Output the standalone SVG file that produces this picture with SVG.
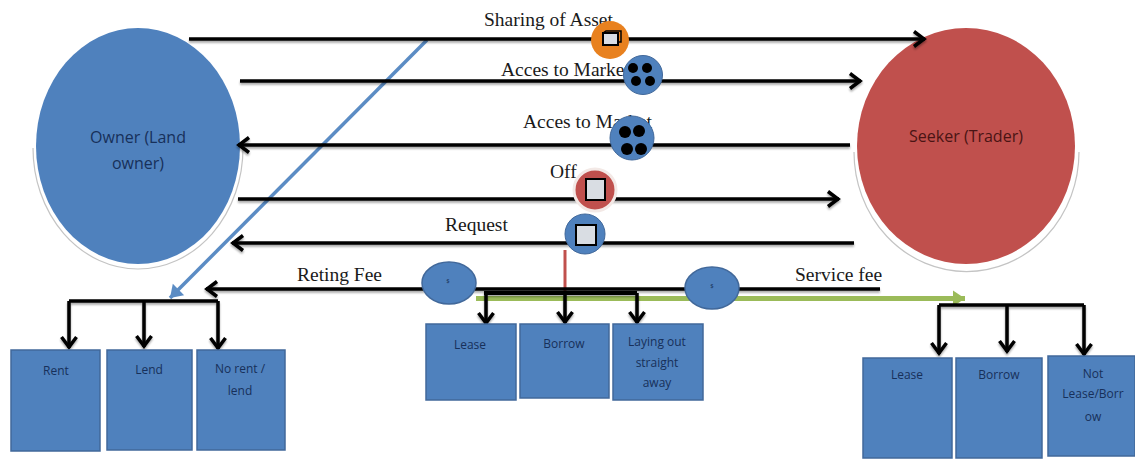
<svg xmlns="http://www.w3.org/2000/svg" width="1135" height="459" viewBox="0 0 1135 459">
<defs>
<marker id="ah" markerUnits="userSpaceOnUse" markerWidth="18" markerHeight="20" refX="14" refY="10" orient="auto"><path d="M3 2.5 L13 10 L3 17.5" fill="none" stroke="#000" stroke-width="3.5"/></marker>
<marker id="ahb" markerUnits="userSpaceOnUse" markerWidth="18" markerHeight="20" refX="14" refY="10" orient="auto"><path d="M2 2 L14 10 L2 18 Z" fill="#5b8cc4"/></marker>
<marker id="ahg" markerUnits="userSpaceOnUse" markerWidth="18" markerHeight="20" refX="14" refY="10" orient="auto"><path d="M2 2 L14 10 L2 18 Z" fill="#9bbb59"/></marker>
<filter id="sh" x="-5%" y="-5%" width="110%" height="110%"><feGaussianBlur in="SourceAlpha" stdDeviation="1"/><feOffset dy="1.5"/><feComponentTransfer><feFuncA type="linear" slope="0.35"/></feComponentTransfer><feMerge><feMergeNode/><feMergeNode in="SourceGraphic"/></feMerge></filter>
</defs>
<style>
.l{stroke:#000;stroke-width:3.5;fill:none}
.a{marker-end:url(#ah)}
.b{fill:#4f81bd;stroke:#41689a;stroke-width:1.5}
.s{font-family:"Liberation Serif",serif;font-size:19.5px;fill:#1a1a1a}
.t{font-family:"Open Sans","DejaVu Sans",sans-serif;font-size:12px;fill:#17305a;text-anchor:middle}
.c{font-size:16px}
.k{fill:#000}
.g{fill:#d9dde3;stroke:#000;stroke-width:2}
.r{fill:none;stroke:#c4c4c4;stroke-width:1.2}
</style>
<rect width="1135" height="459" fill="#fff"/>
<g id="owner">
<path class="r" d="M33 148A105 121 0 0 0 243 148"/>
<ellipse cx="138" cy="146" rx="102" ry="118" fill="#4f81bd"/>
<text class="t c" x="138" y="143">Owner (Land</text>
<text class="t c" x="138" y="169">owner)</text>
</g>
<g id="seeker">
<path class="r" d="M854 152A112 119 0 0 0 1079 152"/>
<ellipse cx="966" cy="146" rx="109" ry="118" fill="#c0504d"/>
<text class="t c" style="fill:#4a1414" x="966" y="142">Seeker (Trader)</text>
</g>
<g id="connectors">
<path d="M427 40L170 298" stroke="#5b8cc4" stroke-width="3.5" fill="none" marker-end="url(#ahb)"/>
<path d="M476 298.500H965" stroke="#9bbb59" stroke-width="5" fill="none" marker-end="url(#ahg)"/>
<path d="M565 250V293" stroke="#c0504d" stroke-width="3" fill="none"/>
<g filter="url(#sh)">
<path class="l a" d="M189 39H925"/>
<path class="l a" d="M240 81H861"/>
<path class="l a" d="M850 145H238"/>
<path class="l a" d="M238 199H839"/>
<path class="l a" d="M854 243H232"/>
<path class="l a" d="M880 289H206"/>
<path d="M484 293H637" stroke="#000" stroke-width="4" fill="none"/>
<path class="l a" d="M486 293V324"/>
<path class="l a" d="M565 293V323"/>
<path class="l a" d="M637 293V323"/>
<path class="l" d="M69 301H218"/>
<path class="l a" d="M69 301V348"/>
<path class="l a" d="M144 301V347"/>
<path class="l a" d="M218 301V349"/>
<path class="l" d="M939 305H1084"/>
<path class="l a" d="M939 305V354"/>
<path class="l a" d="M1007 305V352"/>
<path class="l a" d="M1084 305V355"/>
</g>
</g>
<g id="label-sharing"><text class="s" x="484" y="26">Sharing of Asset</text></g>
<g id="label-market-1"><text class="s" x="501" y="76">Acces to Market</text></g>
<g id="label-market-2"><text class="s" x="523" y="128">Acces to Market</text></g>
<g id="label-off"><text class="s" x="550" y="178">Off</text></g>
<g id="label-request"><text class="s" x="445" y="231">Request</text></g>
<g id="label-fee"><text class="s" x="297" y="281">Reting Fee</text></g>
<g id="label-service"><text class="s" x="795" y="281">Service fee</text></g>
<g id="icon-asset">
<circle cx="610" cy="40" r="19" fill="#e8811f"/>
<rect x="603" y="33" width="15" height="12" class="g"/>
<path d="M618 31H621V42H618M603 33L606 31H621" fill="none" stroke="#000" stroke-width="1.5"/>
</g>
<g id="icon-market-1">
<circle cx="643" cy="75" r="19.500" fill="#4f81bd" stroke="#41689a"/>
<circle class="k" cx="633" cy="68" r="5"/><circle class="k" cx="647" cy="68" r="5"/><circle class="k" cx="636" cy="81" r="5"/><circle class="k" cx="650" cy="81" r="5"/>
</g>
<g id="icon-market-2">
<circle cx="632" cy="138" r="22" fill="#4f81bd" stroke="#41689a"/>
<circle class="k" cx="625" cy="132" r="6"/><circle class="k" cx="639" cy="131" r="6"/><circle class="k" cx="627" cy="149" r="6"/><circle class="k" cx="641" cy="149" r="6"/>
</g>
<g id="icon-off">
<circle cx="595" cy="190" r="21" fill="#c0504d" stroke="#f3e9e6" stroke-width="3"/>
<rect x="586" y="179" width="19" height="21" class="g"/>
</g>
<g id="icon-request">
<circle cx="585" cy="234" r="20" fill="#4f81bd" stroke="#41689a"/>
<rect x="576" y="225" width="20" height="20" class="g"/>
</g>
<g id="fee-left">
<ellipse cx="449" cy="283" rx="27" ry="21" class="b"/>
<text class="t" style="font-size:6px" x="448" y="283">$</text>
</g>
<g id="fee-right">
<ellipse cx="712" cy="288" rx="27" ry="21" class="b"/>
<text class="t" style="font-size:6px" x="712" y="288">$</text>
</g>
<g id="box-rent"><rect class="b" x="11" y="350" width="89" height="101"/><text class="t" x="56" y="375">Rent</text></g>
<g id="box-lend"><rect class="b" x="107" y="350" width="85" height="100"/><text class="t" x="149" y="374">Lend</text></g>
<g id="box-norent"><rect class="b" x="197" y="350" width="88" height="100"/><text class="t" x="240" y="373">No rent /</text><text class="t" x="240" y="395">lend</text></g>
<g id="box-lease-mid"><rect class="b" x="426" y="324" width="90" height="76"/><text class="t" x="470" y="349">Lease</text></g>
<g id="box-borrow-mid"><rect class="b" x="520" y="324" width="89" height="74"/><text class="t" x="564" y="348">Borrow</text></g>
<g id="box-laying"><rect class="b" x="613" y="324" width="90" height="76"/><text class="t" x="657" y="346">Laying out</text><text class="t" x="657" y="367">straight</text><text class="t" x="657" y="387">away</text></g>
<g id="box-lease-right"><rect class="b" x="863" y="358" width="89" height="100"/><text class="t" x="907" y="379">Lease</text></g>
<g id="box-borrow-right"><rect class="b" x="956" y="358" width="86" height="100"/><text class="t" x="999" y="379">Borrow</text></g>
<g id="box-not"><rect class="b" x="1048" y="356" width="87" height="100"/><text class="t" x="1093" y="378">Not</text><text class="t" x="1093" y="398">Lease/Borr</text><text class="t" x="1093" y="421">ow</text></g>
</svg>
